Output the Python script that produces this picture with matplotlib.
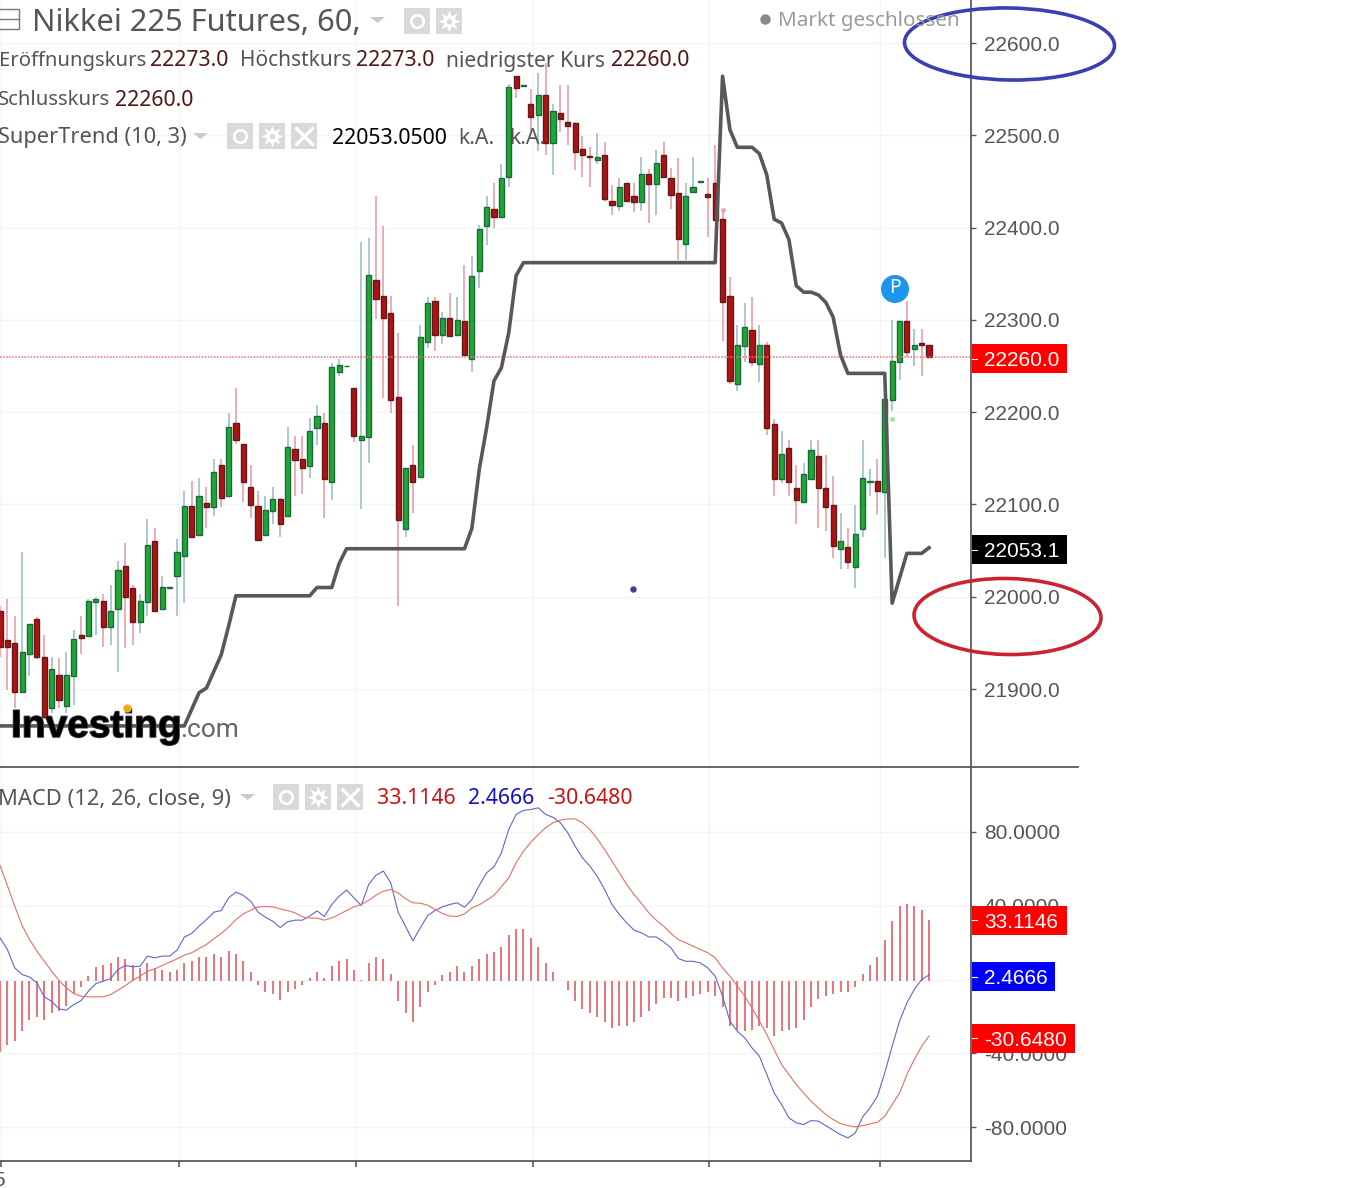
import matplotlib
matplotlib.use('Agg')
import matplotlib.pyplot as plt
import matplotlib.patheffects as pe
from matplotlib.patches import Rectangle, Ellipse, Circle, Polygon

W, H = 1370, 1188

# hourly candles, newest last
opens = [21984,21953,21950,21897,21938,21976,21935,21879,21915,21882,
  21914,21958,21957,21994,21995,21967,21987,22033,22009,21973,
  21994,22060,21987,22010,22022,22044,22098,22067,22102,22097,
  22143,22109,22188,22165,22119,22098,22067,22093,22106,22087,
  22160,22149,22142,22183,22188,22124,22244,22249.5,22226,22170,
  22173,22343,22326,22307,22216,22073,22143,22130,22276,22320,
  22284,22302,22284,22299,22258,22353,22402,22420,22411,22455,
  22564,22553,22534,22522,22544,22492,22524,22514,22513,22485,
  22478,22473,22479,22429,22423,22448,22434,22428,22458,22447,
  22479,22454,22438,22382,22439,22449,22436,22448,22409,22326,
  22230,22272,22289,22252,22273,22187,22128,22161,22118,22103,
  22128,22153,22118,22099,22052,22054,22032,22073,22124,22125,
  22114,22213,22254,22299,22268,22275,22273]
highs = [21990,21998,21979,22049,21970,21978,21958,21935,21934,21940,
  21964,21979,21998,22000,22003,22013,22039,22058,22013,22003,
  22084,22074,22023,22011,22063,22115,22125,22129,22119,22149,
  22149,22199,22226,22166,22143,22115,22109,22119,22107,22184,
  22174,22174,22194,22208,22199,22253,22258,22250.5,22226,22384,
  22389,22434,22402,22326,22286,22139,22164,22294,22325,22325,
  22308,22329,22325,22359,22369,22403,22434,22448,22469,22556,
  22564,22554,22550,22568,22578,22534,22554,22554,22514,22499,
  22487,22503,22493,22446,22454,22448,22448,22477,22464,22484,
  22493,22465,22475,22448,22477,22450,22454,22489,22419,22346,
  22294,22318,22325,22294,22276,22193,22180,22170,22143,22145,
  22170,22170,22154,22131,22091,22074,22099,22170,22138,22149,
  22242,22300,22299,22320,22290,22290,22273]
lows = [21935,21899,21879,21897,21914,21932,21867,21874,21879,21874,
  21883,21938,21957,21959,21946,21948,21918,21944,21948,21961,
  21979,21985,21986,22010,21979,21993,22065,22067,22074,22088,
  22097,22109,22165,22103,22085,22061,22067,22079,22065,22087,
  22109,22111,22129,22164,22085,22105,22239,22249.5,22168,22095,
  22145,22301,22215,22199,21990,22065,22091,22130,22270,22266,
  22274,22282,22284,22262,22243,22335,22381,22400,22411,22444,
  22540,22553,22500,22483,22479,22457,22504,22490,22462,22455,
  22444,22469,22429,22414,22418,22429,22417,22418,22405,22414,
  22455,22420,22365,22365,22439,22449,22390,22408,22277,22230,
  22223,22254,22250,22233,22175,22109,22123,22109,22079,22103,
  22128,22074,22071,22042,22030,22030,22009,22065,22109,22089,
  22042,22201,22235,22260,22250,22239,22260]
closes = [21946,21946,21897,21940,21970,21935,21870,21922,21888,21915,
  21954,21955,21995,21997,21967,21985,22029,22000,21973,21995,
  22056,21985,22011,22011,22049,22098,22065,22109,22097,22135,
  22107,22184,22170,22124,22099,22062,22094,22106,22079,22162,
  22148,22140,22180,22196,22128,22249,22251,22250.5,22174,22174,
  22349,22323,22302,22213,22083,22139,22124,22281,22318,22284,
  22302,22282,22300,22262,22348,22399,22422,22412,22454,22552,
  22551,22554,22520,22544,22492,22526,22518,22510,22482,22479,
  22477,22476,22431,22425,22444,22429,22428,22458,22447,22470,
  22455,22435,22388,22434,22444,22450,22433,22408,22319,22234,
  22273,22292,22254,22273,22183,22128,22155,22124,22105,22133,
  22159,22118,22097,22055,22060,22038,22068,22129,22125,22115,
  22214,22255,22299,22265,22273,22273,22260]
supertrend = [21860,21860,21860,21860,21860,21860,21860,21860,21860,21860,
  21860,21860,21860,21860,21860,21860,21860,21860,21860,21860,
  21860,21860,21860,21860,21860,21860,21878,21896,21901,21919,
  21937,21968,22001,22001,22001,22001,22001,22001,22001,22001,
  22001,22001,22001,22010,22010,22010,22036,22052,22052,22052,
  22052,22052,22052,22052,22052,22052,22052,22052,22052,22052,
  22052,22052,22052,22052,22074,22138,22183,22234,22248,22286,
  22348,22362,22362,22362,22362,22362,22362,22362,22362,22362,
  22362,22362,22362,22362,22362,22362,22362,22362,22362,22362,
  22362,22362,22362,22362,22362,22362,22362,22362,22564,22506,
  22487,22487,22487,22480,22457,22409,22405,22387,22337,22330,
  22330,22327,22319,22303,22262,22242,22242,22242,22242,22242,
  22242,21993,22020,22047,22047,22047,22053.05]
macd_line = [22.6,16.3,6.3,2.7,1.4,-1.8,-9.4,-11.8,-15.9,-16.6,
  -13.6,-11.4,-6.3,-2.2,-0.9,0.5,5.4,7.6,6.9,7.2,
  12.7,11.8,12.7,12.7,15.9,23,25,28.9,32.5,36.5,
  37.4,44.3,47.4,45.6,42.5,36.5,33.8,31.6,28.2,31.3,
  32.2,32.2,34.4,37.2,34.2,40.7,45.2,48.5,44.3,40.1,
  51.5,56.6,58.8,52.4,36.5,28.9,21,28,34.7,37.4,
  39.4,40.7,41.6,39.2,43.4,51,57.9,61.1,68.7,81.4,
  89.5,91.7,92.2,93.1,89.5,88,85,79.6,72.3,66,
  61.5,56,48.8,40.7,35.3,30.7,26.8,25.3,23.1,23.1,
  20.4,17.2,11.4,9.9,9.9,9,6.3,1.8,-9,-22.6,
  -28,-31.6,-37.1,-41.6,-51.5,-61.5,-67.8,-75,-77.7,-78.6,
  -76.5,-76.8,-79.2,-81.7,-84.1,-85.9,-83.2,-74.5,-69.6,-63.3,
  -50.6,-36.2,-22.6,-12.7,-5.4,0,2.4666]
signal_line = [61.8,51,39.8,29.3,21.7,15.4,9.9,4.5,-0.5,-4.5,
  -7.6,-9,-9.4,-9.4,-9.4,-8.1,-5.8,-3.3,-0.4,1.8,
  4.5,5.8,7.6,9.4,11.2,13.2,14.5,16.8,19,22.1,
  25,28.4,32.5,35.6,37.6,39.4,39.6,39.4,38.3,37.4,
  36.2,34,33.3,33.3,32.2,33.4,35.3,37.4,39.4,40.7,
  43,45.7,47.9,48.8,47,43.8,41.6,41.4,40.3,38,
  35.8,34.4,34.2,35.6,38.9,40.5,43,45.7,50.3,55.1,
  63.3,69.6,74.5,78.6,82.3,85,86.4,87.1,87.1,85,
  81.4,76.3,70.5,64.2,57.9,51.5,46.1,41.2,36.2,32.2,
  28.9,25,21.7,19.9,18.1,16.3,14.5,11.8,6.3,1.8,
  -3.6,-9,-15.4,-22.6,-29.8,-38,-46.1,-51.5,-57,-61.5,
  -66,-69.6,-73.2,-75.9,-78.1,-79.2,-79.9,-79.2,-78.3,-77.4,
  -74.1,-67.8,-61.5,-51.5,-43.4,-36.2,-30.648]
histogram = [-38.5,-34.4,-32.5,-27.1,-21.2,-19.3,-21.2,-17.2,-15.9,-13.2,
  -6.9,-3.1,2.7,7.8,9,9.9,13,12.1,9,6.9,
  9.9,6.9,5.8,5.1,6,9.9,10.8,13,13,15,
  13,16.1,15,11,5.1,-1.8,-6,-6.9,-10.1,-6,
  -4,-1.8,1.8,5.1,1.8,8,11,12.1,6,0.9,
  9.9,13,12.1,4,-11,-17.2,-22.2,-14.1,-6,-1.8,
  3.1,5.1,8.1,5.1,8.1,12.1,15,15.9,18.4,25.3,
  28.4,28.4,23.5,18.4,10.1,5.1,0.3,-4.9,-11,-15,
  -17.2,-19.2,-22.2,-25.3,-24.4,-24.4,-22.2,-19.2,-16.3,-12.1,
  -9,-9,-11,-9,-8.1,-6.9,-6,-8.1,-14.1,-24.4,
  -26.2,-27.1,-26.2,-24.4,-25.3,-29.8,-27.1,-26.2,-25.3,-21.2,
  -14.1,-9.9,-8.1,-6.9,-6,-6,-3.1,4,9,13.2,
  22.2,32.4,40.7,41.6,40.7,38.5,33.1146]

price_ticks = [22600,22500,22400,22300,22200,22100,22000,21900]
macd_ticks = [80,40,0,-40,-80]
time_ticks = [0.2,24.3,48.3,72.3,96.2,119.4]

bars = list(range(len(closes)))
GRID = '#f3f4f5'
AXIS = '#5a5a5a'
LABEL = '#555555'
UI = 'Noto Sans'
NUM = 'Liberation Sans'

fig = plt.figure(figsize=(W/100, H/100), dpi=100, facecolor='white')
ax = fig.add_axes([0, (H-767)/H, 971/W, 767/H])
ax2 = fig.add_axes([0, (H-1161)/H, 971/W, (1161-768)/H])
# pixel overlay for the legend rows, price tags and the hand drawn marks
top = fig.add_axes([0, 0, 1, 1], facecolor='none', zorder=10)
top.set_xlim(0, W)
top.set_ylim(H, 0)
top.axis('off')

def style_axis(a, ticks, fmt):
  a.set_xlim(0, 971/7.373)
  a.yaxis.tick_right()
  a.set_yticks(ticks)
  a.set_yticklabels([fmt.format(t) for t in ticks], fontname=NUM, fontsize=15, color=LABEL)
  a.tick_params(axis='y', length=3.6, width=1, color=AXIS, pad=5.5)
  a.set_xticks(time_ticks)
  a.set_axisbelow(True)
  a.grid(True, color=GRID, lw=1)
  for s in ['top', 'left', 'bottom']:
    a.spines[s].set_visible(False)
  a.spines['right'].set_color(AXIS)
  a.spines['right'].set_linewidth(1.3)

style_axis(ax, price_ticks, '{:.1f}')
ax.set_ylim(21815.5, 22646.6)
ax.tick_params(axis='x', length=0, labelbottom=False)

style_axis(ax2, macd_ticks, '{:.4f}')
ax2.set_ylim(-98.4, 114.7)
ax2.spines['bottom'].set_visible(True)
ax2.spines['bottom'].set_color(AXIS)
ax2.spines['bottom'].set_linewidth(1.3)
ax2.tick_params(axis='x', length=4, width=1.2, color=AXIS, labelbottom=False)

# candles
up = [c >= o for o, c in zip(opens, closes)]
wick_colors = ['#abc9cf' if u else '#ecadb3' for u in up]
body_colors = ['#1fa834' if u else '#b01212' for u in up]
edge_colors = ['#1c6a3c' if u else '#5f1a1a' for u in up]
ax.vlines(bars, lows, highs, colors=wick_colors, lw=1.4, zorder=2)
ax.bar(bars, [abs(c-o) for o, c in zip(opens, closes)], bottom=[min(o, c) for o, c in zip(opens, closes)],
  width=0.7, color=body_colors, edgecolor=edge_colors, linewidth=1, zorder=3)
ax.axhline(closes[-1], color='#f07070', lw=1.1, ls=(0, (1, 1)), zorder=4)
ax.plot(bars, supertrend, color='#585858', lw=2.6, solid_joinstyle='round', zorder=5)
# order markers
ax.plot([98], [22419], marker='o', ms=2.5, color='#f2a0a0', zorder=4)
ax.plot([121], [22193], marker='o', ms=2.5, color='#9be89b', zorder=4)
ax.plot([85.9], [22008], marker='o', ms=3.6, mfc='#3b3f9c', mec='#3b3f9c', mew=1, zorder=4)

# macd pane
ax2.vlines(bars, -0.9, [h-0.9 for h in histogram], colors='#e8747a', lw=1.4, zorder=2)
ax2.plot(bars, macd_line, color='#6464c8', lw=0.8, zorder=3)
ax2.plot(bars, signal_line, color='#e27068', lw=0.8, zorder=3)

# pane divider runs past the axis
top.plot([0, 1078], [767, 767], color=AXIS, lw=1.3)

def label(x, y, s, color=LABEL, size=15.3, family=UI, **kw):
  return top.text(x, y+2, s, color=color, fontsize=size, family=family, va='center', ha='left', **kw)

def tag(a, value, s, color, width):
  y = H - a.transData.transform((0, value))[1] + 2
  top.add_patch(Rectangle((972, y-14.5), width, 29, color=color, lw=0, zorder=3))
  top.plot([972, 977], [y, y], color='white', lw=0.8, zorder=4)
  top.text(984, y, s, color='white', fontsize=15, family=NUM, va='center_baseline', ha='left', zorder=5)

def triangle(x, y):
  top.add_patch(Polygon([(x, y), (x+15, y), (x+7.5, y+6)], color='#c9c9c9', lw=0))

def eye_icon(x, y):
  top.add_patch(Rectangle((x, y), 26, 26, color='#d9d9d9', lw=0))
  top.plot([x+13], [y+13], marker='o', ms=9, mfc='none', mec='white', mew=2)

def gear_icon(x, y):
  top.add_patch(Rectangle((x, y), 26, 26, color='#d9d9d9', lw=0))
  top.plot([x+13], [y+13], marker=(8, 1, 0), ms=16, color='white', mew=0)
  top.plot([x+13], [y+13], marker='o', ms=4, color='#d9d9d9', mew=0)

def close_icon(x, y):
  top.add_patch(Rectangle((x, y), 26, 26, color='#d9d9d9', lw=0))
  top.plot([x+13], [y+13], marker='x', ms=13, color='white', mew=2.4)

# title row
top.add_patch(Rectangle((-3, 9), 22, 20, fc='none', ec='#777777', lw=1))
top.plot([0, 19], [19, 19], color='#777777', lw=1)
label(32, 21, 'Nikkei 225 Futures, 60,', size=22.2)
triangle(370, 17)
eye_icon(404, 8)
gear_icon(436, 8)
top.plot([765], [19], marker='o', ms=7.5, color='#8a8a8a', mew=0)
label(778, 19, 'Markt geschlossen', color='#9a9a9a', size=14.9)

DARK = '#4f1616'
label(-1, 59, 'Eröffnungskurs', size=14.6)
label(150, 59, '22273.0', DARK)
label(240, 59, 'Höchstkurs', size=15)
label(356, 59, '22273.0', DARK)
label(446, 59, 'niedrigster Kurs', size=15.2)
label(611, 59, '22260.0', DARK)
label(-2, 98, 'Schlusskurs', size=14.6)
label(115, 98, '22260.0', DARK)
label(-2, 136, 'SuperTrend (10, 3)', size=15.7)
triangle(193, 133)
eye_icon(227, 123)
gear_icon(259, 123)
close_icon(291, 123)
label(332, 136, '22053.0500', 'black')
label(458, 136, 'k.A.')
label(509, 136, 'k.A.')

label(-2, 797, 'MACD (12, 26, close, 9)', size=15.8)
triangle(240, 794)
eye_icon(273, 784)
gear_icon(305, 784)
close_icon(337, 784)
label(377, 797, '33.1146', '#c81414')
label(468, 797, '2.4666', '#1212c0')
label(547, 797, '-30.6480', '#c81414')

# last value tags
tag(ax, 22260.0, '22260.0', '#ff0000', 95)
tag(ax, 22053.05, '22053.1', '#000000', 95)
tag(ax2, 33.1146, '33.1146', '#ff0000', 95)
tag(ax2, 2.4666, '2.4666', '#0000ff', 83)
tag(ax2, -30.648, '-30.6480', '#ff0000', 103)

top.text(5, 1180, '5', color=LABEL, fontsize=15, family=NUM, ha='right', va='center')

# P pin
top.add_patch(Circle((895, 289), 14, color='#1a96ee', lw=0))
top.text(895, 288, 'P', color='white', fontsize=14, family=UI, ha='center', va='center')

# watermark
wm = top.text(11, 737, 'Investing', color='black', fontsize=28, family=NUM, weight='bold', ha='left', va='baseline')
wm.set_path_effects([pe.withStroke(linewidth=1.2, foreground='#444444')])
top.text(180, 737, '.com', color='#666666', fontsize=19, family='Roboto', ha='left', va='baseline')
top.plot([127], [708], marker='o', ms=6, color='#f5a623', mew=0, zorder=6)

# hand drawn circles
top.add_patch(Ellipse((1009.5, 44), 210, 72, angle=1, fc='none', ec='#3a40b4', lw=2.6))
top.add_patch(Ellipse((1007.5, 616.5), 187, 76, angle=1, fc='none', ec='#cc2233', lw=2.6))

fig.savefig('out.png', dpi=100, facecolor='white')
